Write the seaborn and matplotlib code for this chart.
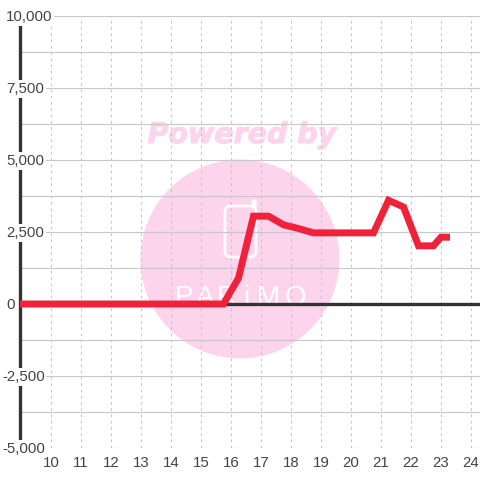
import matplotlib
matplotlib.use("Agg")
import matplotlib.pyplot as plt
import matplotlib.patheffects as pe
import seaborn as sns
import pandas as pd
from matplotlib.patches import Ellipse, FancyBboxPatch

hours = [8.75, 9.25, 9.75, 10.25, 10.75, 11.25, 11.75, 12.25, 12.75, 13.25, 13.75, 14.25, 14.75, 15.25, 15.75,
         16.25, 16.75, 17.25, 17.75, 18.25, 18.75, 19.25, 19.75, 20.25, 20.75, 21.25, 21.75, 22.25, 22.75, 23.0, 23.3]
values = [0, 0, 0, 0, 0, 0, 0, 0, 0, 0, 0, 0, 0, 0, 0,
          900, 3050, 3050, 2750, 2620, 2470, 2470, 2470, 2470, 2470, 3600, 3370, 2020, 2020, 2320, 2320]
x_ticks = list(range(10, 25))
y_major = [-5000, -2500, 0, 2500, 5000, 7500, 10000]
y_minor = [-3750, -1250, 1250, 3750, 6250, 8750]
y_labels = ["-5,000", "-2,500", "0", "2,500", "5,000", "7,500", "10,000"]
logo_letters = ["P", "A", "R", "i", "M", "O"]
logo_centres = [184, 205, 227, 246, 268, 295]

sns.set_theme(style="white")
plt.rcParams["font.family"] = ["Liberation Sans", "DejaVu Sans"]

W = 480
fig = plt.figure(figsize=(4.8, 4.8), dpi=100, facecolor="white")
PINK = "#fcd5ec"

# watermark, behind the transparent axes
fig.add_artist(Ellipse((240 / W, 1 - 259 / W), 199 / W, 199 / W, transform=fig.transFigure,
                       fc=PINK, ec="none", zorder=-5))
fig.text(242 / W, 1 - 135 / W, "Powered by", color=PINK, fontsize=20.5, fontweight="bold", fontstyle="italic",
         family="DejaVu Sans", ha="center", va="center", zorder=-4,
         path_effects=[pe.withStroke(linewidth=0.8, foreground=PINK)])
fig.add_artist(FancyBboxPatch((225 / W, 1 - 257 / W), 31 / W, 51 / W, boxstyle="round,pad=0,rounding_size=0.012",
                              transform=fig.transFigure, fc="none", ec="white", lw=1.9, zorder=-4))
fig.add_artist(FancyBboxPatch((252 / W, 1 - 208 / W), 4 / W, 8 / W, boxstyle="round,pad=0,rounding_size=0.004",
                              transform=fig.transFigure, fc="white", ec="white", lw=1, zorder=-4))
for ch, cx in zip(logo_letters, logo_centres):
    fig.text(cx / W, 1 - 305 / W, ch, color="white", fontsize=20, family="Liberation Sans",
             ha="center", va="baseline", zorder=-4)

ax = fig.add_axes([20 / W, 1 - 448 / W, 460 / W, 432 / W])
ax.patch.set_alpha(0)
ax.set_xticks(x_ticks)
ax.set_yticks(y_major)
ax.set_yticks(y_minor, minor=True)
ax.set_yticklabels([])
ax.grid(True, axis="y", which="both", color="#c8c8c8", lw=0.85, zorder=1)
ax.grid(True, axis="x", which="major", color="#c4c4c4", lw=0.75, ls=(0, (2.5, 3.5)), zorder=1)
ax.tick_params(axis="both", which="both", length=0)
ax.tick_params(axis="x", labelsize=10.8, labelcolor="#444444", pad=6)
ax.set_axisbelow(True)
for s in ["top", "right", "bottom"]:
    ax.spines[s].set_visible(False)
ax.spines["left"].set_color("#333333")
ax.spines["left"].set_linewidth(2.4)
ax.spines["left"].set_zorder(2)
ax.axhline(0, color="#333333", lw=2.4, zorder=2)

df = pd.DataFrame({"hour": hours, "value": values})
sns.lineplot(data=df, x="hour", y="value", ax=ax, color="#f0213a", lw=5, zorder=3,
             errorbar=None, estimator=None, solid_joinstyle="miter", solid_capstyle="butt")
ax.set_xlabel("")
ax.set_ylabel("")
ax.set_xlim(10 - 31 / 30, 10 + 429 / 30)
ax.set_ylim(-5000, 10000)

# y labels on white plates that interrupt the axis line
trans = ax.get_yaxis_transform()
for v, lab in zip(y_major, y_labels):
    xp = (2 - 20) / 460 if lab.startswith("-") else (6 - 20) / 460
    ax.annotate(lab, xy=(xp, v), xycoords=trans, xytext=(0, -0.7), textcoords="offset points",
                ha="left", va="center", fontsize=10.8, color="#444444", zorder=2.5,
                annotation_clip=False, bbox=dict(fc="white", ec="none", pad=1.2))

fig.savefig("out.png", dpi=100)
